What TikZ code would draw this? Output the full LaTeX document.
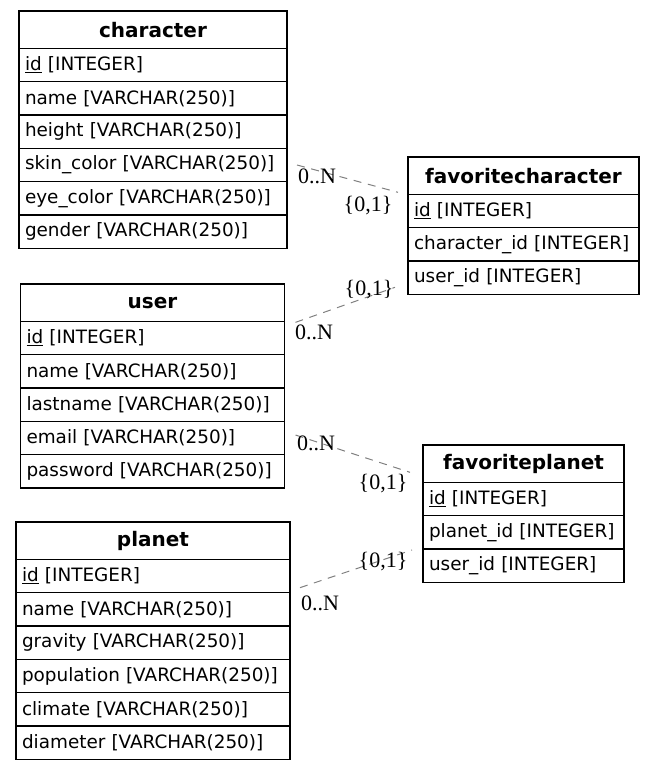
\documentclass[tikz,border=0pt]{standalone}
\usepackage{fontspec}
\setmainfont{DejaVu Sans}
\newfontfamily\cardfont{Liberation Serif}
\usetikzlibrary{calc,positioning}

\begin{document}
\begin{tikzpicture}[x=0.75pt,y=-0.75pt]
	    \tikzstyle{head}=[draw,line width=0.9pt,outer sep=0pt,anchor=north west,minimum height=28pt,inner sep=0pt,font=\fontsize{15}{17}\selectfont\bfseries]
	    \tikzstyle{field}=[draw,line width=0.9pt,outer sep=0pt,minimum height=25pt,inner xsep=4.5pt,inner ysep=0pt,align=left,font=\fontsize{13.8}{16}\selectfont]
	    \tikzstyle{rel}=[draw=gray,line width=0.75pt,dash pattern=on 6pt off 5pt]
	    \tikzstyle{card}=[font=\cardfont\fontsize{16.5}{18}\selectfont,inner sep=0pt]

	    \useasboundingbox (0,0) rectangle (655,771);

	    % character
	    \node[head,minimum width=201pt] (ch0) at (19,11) {character};
	    \node[field,text width=192pt,below=0pt of ch0] (ch1) {\underline{id} [INTEGER]};
	    \node[field,text width=192pt,below=0pt of ch1] (ch2) {name [VARCHAR(250)]};
	    \node[field,text width=192pt,below=0pt of ch2] (ch3) {height [VARCHAR(250)]};
	    \node[field,text width=192pt,below=0pt of ch3] (ch4) {skin\_color [VARCHAR(250)]};
	    \node[field,text width=192pt,below=0pt of ch4] (ch5) {eye\_color [VARCHAR(250)]};
	    \node[field,text width=192pt,below=0pt of ch5] (ch6) {gender [VARCHAR(250)]};

	    % user
	    \node[head,minimum width=198pt] (us0) at (20.5,284) {user};
	    \node[field,text width=189pt,below=0pt of us0] (us1) {\underline{id} [INTEGER]};
	    \node[field,text width=189pt,below=0pt of us1] (us2) {name [VARCHAR(250)]};
	    \node[field,text width=189pt,below=0pt of us2] (us3) {lastname [VARCHAR(250)]};
	    \node[field,text width=189pt,below=0pt of us3] (us4) {email [VARCHAR(250)]};
	    \node[field,text width=189pt,below=0pt of us4] (us5) {password [VARCHAR(250)]};

	    % planet
	    \node[head,minimum width=205.5pt] (pl0) at (16,522) {planet};
	    \node[field,text width=196.5pt,below=0pt of pl0] (pl1) {\underline{id} [INTEGER]};
	    \node[field,text width=196.5pt,below=0pt of pl1] (pl2) {name [VARCHAR(250)]};
	    \node[field,text width=196.5pt,below=0pt of pl2] (pl3) {gravity [VARCHAR(250)]};
	    \node[field,text width=196.5pt,below=0pt of pl3] (pl4) {population [VARCHAR(250)]};
	    \node[field,text width=196.5pt,below=0pt of pl4] (pl5) {climate [VARCHAR(250)]};
	    \node[field,text width=196.5pt,below=0pt of pl5] (pl6) {diameter [VARCHAR(250)]};

	    % favoritecharacter
	    \node[head,minimum width=173.25pt] (fc0) at (408,157) {favoritecharacter};
	    \node[field,text width=164.25pt,below=0pt of fc0] (fc1) {\underline{id} [INTEGER]};
	    \node[field,text width=164.25pt,below=0pt of fc1] (fc2) {character\_id [INTEGER]};
	    \node[field,text width=164.25pt,below=0pt of fc2] (fc3) {user\_id [INTEGER]};

	    % favoriteplanet
	    \node[head,minimum width=150.75pt] (fp0) at (423,445) {favoriteplanet};
	    \node[field,text width=141.75pt,below=0pt of fp0] (fp1) {\underline{id} [INTEGER]};
	    \node[field,text width=141.75pt,below=0pt of fp1] (fp2) {planet\_id [INTEGER]};
	    \node[field,text width=141.75pt,below=0pt of fp2] (fp3) {user\_id [INTEGER]};

	    % relations
	    \draw[rel] ($(ch4.east)+(10,0)$) -- ($(fc0.south west)+(-10,-2)$);
	    \draw[rel] ($(us0.south east)+(11,1)$) -- ($(fc3.south west)+(-13,-7)$);
	    \draw[rel] ($(us4.east)+(11,-3)$) -- ($(fp0.south west)+(-13,-10)$);
	    \draw[rel] ($(pl1.south east)+(10,-5)$) -- ($(fp3.north west)+(-11,1)$);

	    \node[card] (c1a) at (317,176) {0..N};
	    \node[card] (c1b) at (368,206) {\{0,1\}};
	    \node[card] (c2a) at (369,290) {\{0,1\}};
	    \node[card] (c2b) at (314,332) {0..N};
	    \node[card] (c3a) at (316,443) {0..N};
	    \node[card] (c3b) at (383,484) {\{0,1\}};
	    \node[card] (c4a) at (383,562) {\{0,1\}};
	    \node[card] (c4b) at (320,603) {0..N};

\end{tikzpicture}
\end{document}
